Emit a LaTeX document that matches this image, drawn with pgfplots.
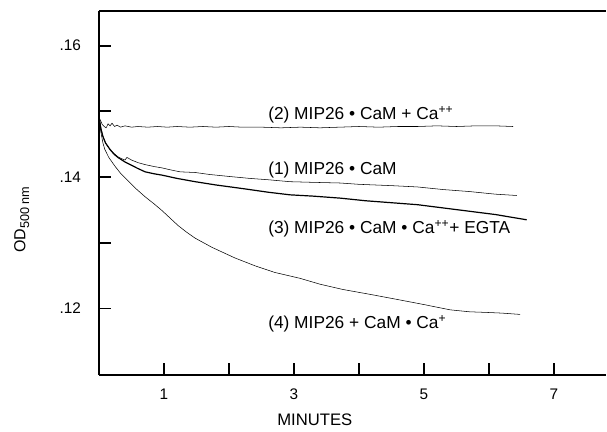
\documentclass[border=0pt]{standalone}
\usepackage{fontspec}
\setmainfont{Liberation Sans}
\usepackage{pgfplots}
\pgfplotsset{compat=1.18}
\begin{document}
\begin{tikzpicture}
\useasboundingbox (-74.25pt,-42.75pt) rectangle (381pt,281.25pt);
\begin{axis}[
  at={(0,0)}, anchor=south west,
  scale only axis, width=380.25pt, height=273pt,
  xmin=0, xmax=7.8, ymin=0.10988, ymax=0.16528,
  axis x line=box, axis y line=left,
  axis line style={line width=2pt,-},
  xtick pos=left, ytick pos=left,
  tick align=inside, major tick length=9pt,
  tick style={line width=1.4pt, black},
  xtick={1,2,3,4,5,6,7}, xticklabels={1,,3,,5,,7},
  ytick={0.12,0.13,0.14,0.15,0.16}, yticklabels={.12,,.14,,.16},
  /pgf/number format/assume math mode=true,
  ticklabel style={font=\fontsize{11.5}{13}\selectfont},
  xticklabel style={yshift=-7pt},
  yticklabel style={xshift=-10pt},
  clip=false,
  cycle list={{black, no markers, line width=0.9pt, line join=round}},
]
% (2) MIP26 . CaM + Ca++
\addplot coordinates {(0,.1490)(0.02,.1487)(0.05,.1480)(0.08,.1477)(0.11,.1475)(0.14,.1481)(0.17,.1478)(0.2,.1482)(0.24,.1477)(0.28,.1479)(0.33,.1476)(0.4,.1478)(0.5,.1476)(0.6,.1477)(0.75,.1476)(0.9,.1477)(1.05,.1476)(1.2,.1477)(1.4,.1476)(1.6,.1477)(1.8,.1476)(2.0,.1477)(2.2,.1476)(2.5,.1476)(2.8,.1475)(3.1,.1476)(3.4,.1475)(3.7,.1476)(4.0,.1477)(4.3,.1476)(4.6,.1477)(4.9,.1477)(5.2,.1478)(5.5,.1477)(5.8,.1478)(6.1,.1478)(6.37,.1477)};
% (1) MIP26 . CaM
\addplot coordinates {(0,.1495)(0.03,.1475)(0.06,.1462)(0.1,.1452)(0.17,.1442)(0.23,.1436)(0.29,.1431)(0.35,.1428)(0.4,.1426)(0.43,.1430)(0.5,.1426)(0.6,.1422)(0.71,.1419)(0.85,.1416)(0.97,.1414)(1.1,.1411)(1.25,.1408)(1.48,.1407)(1.7,.1404)(2.0,.1401)(2.32,.1398)(2.6,.1396)(2.94,.1393)(3.3,.1392)(3.71,.1391)(4.0,.1389)(4.5,.1387)(4.9,.1385)(5.3,.1381)(5.7,.1378)(6.1,.1374)(6.43,.1372)};
% (3) MIP26 . CaM . Ca++ + EGTA
\addplot coordinates {(0,.1490)(0.03,.1473)(0.06,.1462)(0.1,.1452)(0.17,.1442)(0.23,.1435)(0.29,.1430)(0.4,.1423)(0.5,.1418)(0.6,.1413)(0.71,.1408)(0.85,.1405)(0.97,.1403)(1.2,.1398)(1.48,.1393)(1.8,.1388)(2.1,.1384)(2.32,.1381)(2.6,.1377)(2.94,.1373)(3.3,.1371)(3.71,.1368)(4.1,.1364)(4.5,.1361)(4.9,.1358)(5.3,.1353)(5.7,.1348)(6.1,.1343)(6.58,.1335)};
% (4) MIP26 + CaM . Ca+
\addplot coordinates {(0,.1485)(0.03,.1468)(0.06,.1452)(0.09,.1442)(0.15,.1430)(0.25,.1416)(0.33,.1406)(0.4,.1399)(0.55,.1384)(0.71,.1370)(0.85,.1359)(0.97,.1349)(1.1,.1337)(1.22,.1326)(1.35,.1316)(1.48,.1307)(1.74,.1293)(2.09,.1277)(2.4,.1265)(2.7,.1255)(3.09,.1246)(3.4,.1237)(3.75,.1229)(4.2,.1221)(4.63,.1213)(5.0,.1206)(5.4,.1198)(5.7,.1195)(5.97,.1194)(6.2,.1193)(6.48,.1191)};
\begin{scope}[every node/.style={font=\fontsize{13}{15}\selectfont, inner sep=0pt, anchor=base west}]
\node at (axis cs:2.6,.1488) {(2) MIP26 \textbullet\ CaM + Ca\textsuperscript{++}};
\node at (axis cs:2.6,.1404) {(1) MIP26 \textbullet\ CaM};
\node at (axis cs:2.6,.1314) {(3) MIP26 \textbullet\ CaM \textbullet\ Ca\textsuperscript{++}+ EGTA};
\node at (axis cs:2.6,.1170) {(4) MIP26 + CaM \textbullet\ Ca\textsuperscript{+}};
\end{scope}
\node[font=\fontsize{12.5}{14}\selectfont, inner sep=0pt] at (axis cs:3.32,0.10988) [yshift=-33.75pt] {MINUTES};
\node[font=\fontsize{12}{14}\selectfont, inner sep=0pt, rotate=90] at (axis cs:-1.19,.1335) {OD\raisebox{-0.45ex}{\fontsize{9.5}{10}\selectfont 500 nm}};
\end{axis}
\end{tikzpicture}
\end{document}
